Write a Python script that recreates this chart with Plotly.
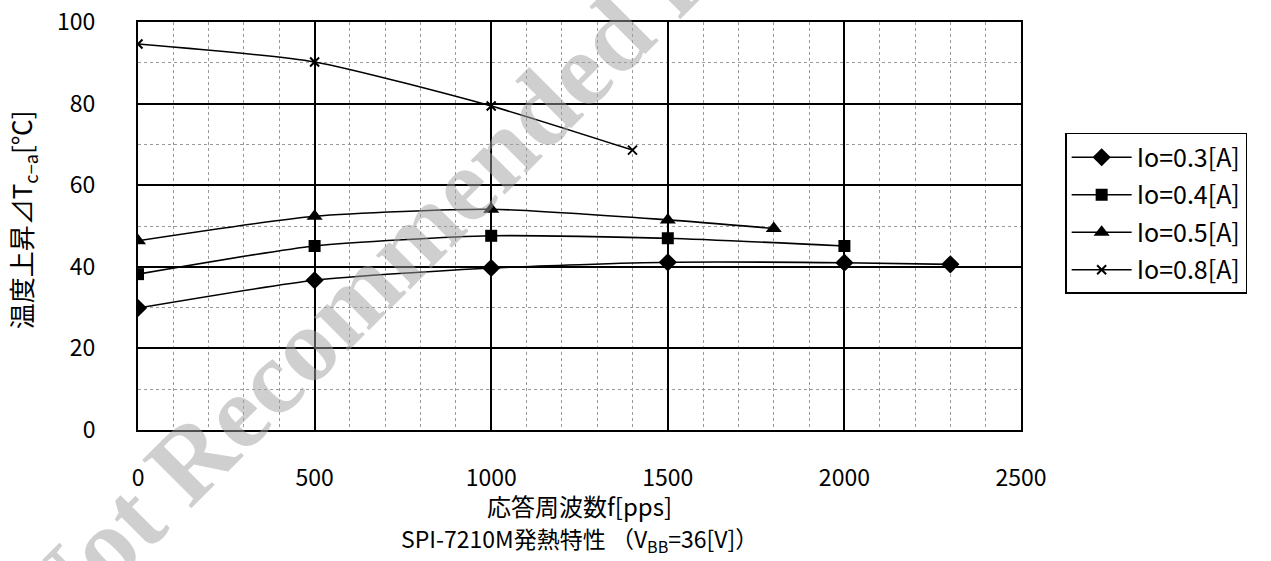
import plotly.graph_objects as go

x_03 = [0, 500, 1000, 1500, 2000, 2300]
y_03 = [29.9, 36.7, 39.7, 41.1, 41.0, 40.6]
x_04 = [0, 500, 1000, 1500, 2000]
y_04 = [38.2, 45.1, 47.6, 47.0, 45.1]
x_05 = [0, 500, 1000, 1500, 1800]
y_05 = [46.4, 52.4, 54.1, 51.5, 49.4]
x_08 = [0, 500, 1000, 1400]
y_08 = [94.6, 90.2, 79.4, 68.6]

names = ["Io=0.3[A]", "Io=0.4[A]", "Io=0.5[A]", "Io=0.8[A]"]
FONT = "Noto Sans CJK JP"

fig = go.Figure()
series = [(x_03, y_03, "diamond", 14), (x_04, y_04, "square", 12),
          (x_05, y_05, "triangle-up", 14), (x_08, y_08, "x-thin", 9)]
for i, (xs, ys, sym, sz) in enumerate(series):
    fig.add_trace(go.Scatter(
        x=xs, y=ys, name=names[i], mode="lines+markers", legendgroup=str(i),
        line=dict(color="black", width=1.6, shape="spline", smoothing=0.6),
        marker=dict(symbol=sym, size=sz, color="black",
                    line=dict(color="black", width=2 if sym == "x-thin" else 0)),
    ))

fig.update_layout(
    width=1271, height=561,
    margin=dict(l=138, r=250, t=22, b=131),
    plot_bgcolor="white", paper_bgcolor="white",
    font=dict(family=FONT, size=23, color="black"),
    showlegend=True,
    legend=dict(x=1.05, y=0.728, xanchor="left", yanchor="top",
                bordercolor="black", borderwidth=1.5, bgcolor="white",
                font=dict(family=FONT, size=25), tracegroupgap=2, itemwidth=60),
    xaxis=dict(range=[0, 2500], dtick=500, tick0=0, showline=True, mirror=True,
               linecolor="black", linewidth=2, showgrid=True, gridcolor="black",
               gridwidth=2, zeroline=False, ticks="", ticklabelstandoff=26,
               automargin=False,
               minor=dict(dtick=100, showgrid=True, gridcolor="#9a9a9a",
                          griddash="dot", gridwidth=1)),
    yaxis=dict(range=[0, 100], dtick=20, tick0=0, showline=True, mirror=True,
               linecolor="black", linewidth=2, showgrid=True, gridcolor="black",
               gridwidth=1.5, zeroline=False, ticks="", ticklabelstandoff=36,
               automargin=False,
               minor=dict(dtick=10, showgrid=True, gridcolor="#9a9a9a",
                          griddash="dot", gridwidth=1)),
)

fig.add_annotation(text="温度上昇⊿T<sub>c−a</sub>[℃]", xref="paper", yref="paper",
                   x=-0.131, y=0.515, xanchor="center", yanchor="middle", textangle=-90,
                   showarrow=False, font=dict(family=FONT, size=26))
fig.add_annotation(text="応答周波数f[pps]", xref="paper", yref="paper",
                   x=0.5, y=-0.184, xanchor="center", yanchor="middle",
                   showarrow=False, font=dict(family=FONT, size=24))
fig.add_annotation(text="SPI-7210M発熱特性 （V<sub>BB</sub>=36[V]）", xref="paper", yref="paper",
                   x=0.5, y=-0.268, xanchor="center", yanchor="middle",
                   showarrow=False, font=dict(family=FONT, size=23))
fig.add_annotation(text="<b>Not Recommended for New Design</b>", xref="paper", yref="paper",
                   x=0.506, y=0.895, xanchor="center", yanchor="middle",
                   textangle=-45, showarrow=False,
                   font=dict(family="Liberation Serif", size=105, color="rgba(160,160,160,0.5)"))

fig.write_html("out.html")
